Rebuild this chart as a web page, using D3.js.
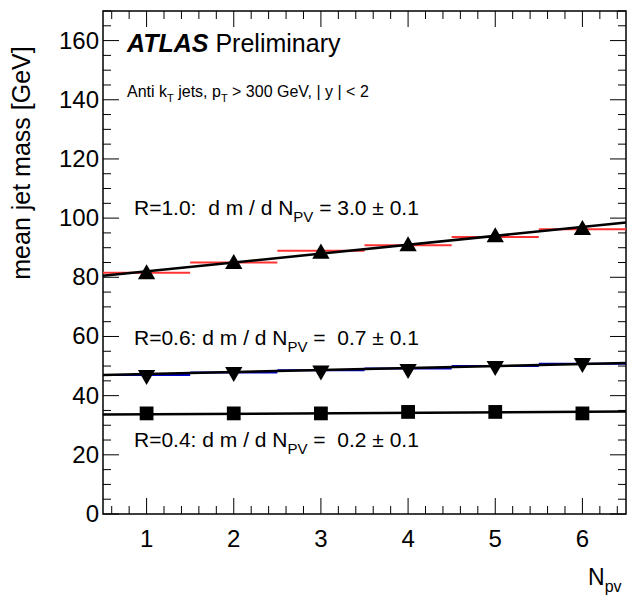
<!DOCTYPE html><html><head><meta charset="utf-8">
<script src="https://d3js.org/d3.v7.min.js"></script>
<style>body{margin:0;background:#fff}text{font-family:"Liberation Sans",Arial,sans-serif}</style></head><body>
<svg id="c" width="627" height="597"></svg>
<script>
const npv=[1,2,3,4,5,6];
const massR10=[81,84.5,88,90.5,93.5,96];
const histR10=[81.5,85,89,90.8,93.6,96.2];
const massR06=[47,48,48.5,49,50,51];
const histR06=[47,47.8,48.6,49.2,50,50.8];
const massR04=[34,34,34,34.5,34.5,34];
const fits=[{a:80.5,b:98.5},{a:47,b:51},{a:33.6,b:34.6}];
const yTicks=[0,20,40,60,80,100,120,140,160];
const svg=d3.select("#c");
const L=103,R=626,T=11,B=514;
const x=d3.scaleLinear().domain([0.5,6.5]).range([L,R]);
const y=d3.scaleLinear().domain([0,170]).range([B,T]);
const g=svg.append("g");
g.append("rect").attr("x",L).attr("y",T).attr("width",R-L).attr("height",B-T).attr("fill","none").attr("stroke","#000").attr("stroke-width",1.5);
d3.range(0,171,5).forEach(v=>{const maj=v%20===0,len=maj?16:8;
 g.append("line").attr("x1",L).attr("x2",L+len).attr("y1",y(v)).attr("y2",y(v)).attr("stroke","#000");
 g.append("line").attr("x1",R-len).attr("x2",R).attr("y1",y(v)).attr("y2",y(v)).attr("stroke","#000");});
yTicks.forEach(v=>g.append("text").attr("x",L-4).attr("y",y(v)+8).attr("text-anchor","end").attr("font-size",24).text(v));
d3.range(0.6,6.5,0.2).forEach(v=>{const maj=Math.abs(v-Math.round(v))<0.01,len=maj?16:8;
 g.append("line").attr("x1",x(v)).attr("x2",x(v)).attr("y1",B).attr("y2",B-len).attr("stroke","#000");
 g.append("line").attr("x1",x(v)).attr("x2",x(v)).attr("y1",T).attr("y2",T+len).attr("stroke","#000");});
npv.forEach(v=>g.append("text").attr("x",x(v)).attr("y",B+33).attr("text-anchor","middle").attr("font-size",24).text(v));
function hist(vals,col){vals.forEach((v,i)=>g.append("line").attr("x1",x(npv[i]-0.5)).attr("x2",x(npv[i]+0.5)).attr("y1",y(v)).attr("y2",y(v)).attr("stroke",col).attr("stroke-width",2));}
hist(histR10,"#ff3333");hist(histR06,"#0000cc");
fits.forEach(f=>g.append("line").attr("x1",x(0.5)).attr("x2",x(6.5)).attr("y1",y(f.a)).attr("y2",y(f.b)).attr("stroke","#000").attr("stroke-width",2.5));
const sym=(t,s)=>d3.symbol().type(t).size(s);
massR10.forEach((v,i)=>g.append("path").attr("d",sym(d3.symbolTriangle,130)()).attr("transform",`translate(${x(npv[i])},${y(v)})`));
massR06.forEach((v,i)=>g.append("path").attr("d",sym(d3.symbolTriangle,130)()).attr("transform",`translate(${x(npv[i])},${y(v)}) rotate(180)`));
massR04.forEach((v,i)=>g.append("path").attr("d",sym(d3.symbolSquare,190)()).attr("transform",`translate(${x(npv[i])},${y(v)})`));
const t1=g.append("text").attr("x",127).attr("y",52).attr("font-size",25);
t1.append("tspan").attr("font-weight","bold").attr("font-style","italic").text("ATLAS");
t1.append("tspan").text(" Preliminary");
const t2=g.append("text").attr("x",127).attr("y",97).attr("font-size",16);
t2.append("tspan").text("Anti k");t2.append("tspan").attr("dy",5).attr("font-size",11).text("T");
t2.append("tspan").attr("dy",-5).text(" jets, p");t2.append("tspan").attr("dy",5).attr("font-size",11).text("T");
t2.append("tspan").attr("dy",-5).text(" > 300 GeV, | y | < 2");
function lab(xx,yy,pre,val){const t=g.append("text").attr("x",xx).attr("y",yy).attr("font-size",21).attr("xml:space","preserve").style("white-space","pre");
 t.append("tspan").text(pre+"d m / d N");t.append("tspan").attr("dy",7).attr("font-size",15).text("PV");
 t.append("tspan").attr("dy",-7).text(val);}
lab(134,215,"R=1.0:  "," = 3.0 ± 0.1");
lab(134,345,"R=0.6: "," =  0.7 ± 0.1");
lab(134,447,"R=0.4: "," =  0.2 ± 0.1");
g.append("text").attr("transform","translate(30,163) rotate(-90)").attr("text-anchor","middle").attr("font-size",25).text("mean jet mass [GeV]");
const xl=g.append("text").attr("x",588).attr("y",585).attr("font-size",23);
xl.append("tspan").text("N");xl.append("tspan").attr("dy",7).attr("font-size",16).text("pv");
</script></body></html>
